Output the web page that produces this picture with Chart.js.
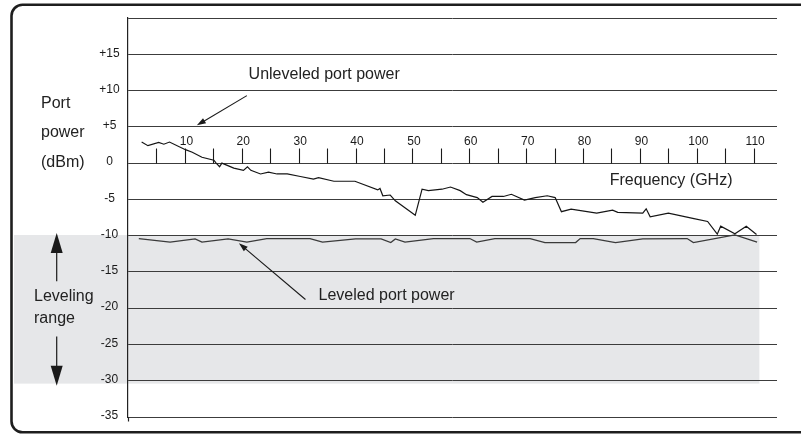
<!DOCTYPE html>
<html>
<head>
<meta charset="utf-8">
<script src="https://cdn.jsdelivr.net/npm/chart.js@4/dist/chart.umd.min.js"></script>
<style>
  html, body { margin: 0; padding: 0; background: #ffffff; }
  #wrap { width: 801px; height: 436px; }
</style>
</head>
<body>
<div id="wrap"><canvas id="c" width="801" height="436"></canvas></div>
<script>
// ---- Data ----
const unleveledFreq  = [2.4, 3.5, 5.4, 6.3, 7.3, 10.1, 11.3, 13.0, 15.1, 15.5, 16.1, 16.5, 18.6, 20.3, 21.0, 21.6, 23.3, 24.7, 26.2, 28.0, 30.3, 32.6, 33.5, 36.2, 39.9, 43.9, 44.3, 44.8, 46.1, 47.0, 50.5, 51.7, 52.8, 55.2, 56.7, 58.4, 59.5, 61.4, 62.4, 64.0, 66.0, 67.4, 69.7, 71.6, 73.7, 75.1, 76.2, 77.9, 82.4, 85.2, 86.1, 90.5, 91.1, 91.8, 95.0, 99.5, 101.9, 103.6, 104.2, 106.7, 108.7, 110.5];
const unleveledPower = [2.9, 2.4, 2.85, 2.6, 2.9, 1.85, 1.5, 0.8, 0.4, 0.0, -0.5, 0.0, -0.7, -1.0, -0.5, -1.0, -1.5, -1.25, -1.5, -1.5, -1.85, -2.2, -2.0, -2.5, -2.5, -3.7, -3.5, -4.5, -4.4, -5.2, -7.2, -3.6, -3.8, -3.6, -3.3, -3.8, -4.35, -4.75, -5.4, -4.6, -4.6, -4.3, -5.1, -4.75, -4.5, -4.75, -6.7, -6.35, -6.9, -6.5, -6.8, -6.9, -6.3, -7.4, -6.9, -7.65, -8.05, -9.8, -8.7, -9.75, -8.7, -9.85];

const leveledFreq  = [1.9, 7.4, 11.8, 13.0, 17.6, 20.9, 24.4, 32.0, 34.2, 40.0, 44.5, 46.2, 47.0, 48.7, 53.7, 60.1, 61.3, 64.5, 70.7, 73.3, 78.7, 79.5, 81.8, 85.7, 90.5, 98.3, 99.4, 106.7, 110.6];
const leveledPower = [-10.4, -10.9, -10.45, -10.9, -10.45, -10.9, -10.4, -10.4, -10.9, -10.45, -10.45, -10.95, -10.45, -10.9, -10.4, -10.4, -10.9, -10.4, -10.4, -10.95, -10.95, -10.4, -10.4, -10.95, -10.45, -10.4, -10.95, -9.9, -10.9];

const yTickValues   = [15, 10, 5, 0, -5, -10, -15, -20, -25, -30, -35];
const xTickLabels   = [10, 20, 30, 40, 50, 60, 70, 80, 90, 100, 110];
const xTickMarks    = [5, 10, 15, 20, 25, 30, 35, 40, 45, 50, 55, 60, 65, 70, 75, 80, 85, 90, 95, 100, 105, 110];

const levelingRangeTop = -10;
const levelingRangeBottom = -30.4;
const levelingRangeEndGHz = 111;

// ---- Build datasets ----
const unleveledData = unleveledFreq.map((f, i) => ({ x: f, y: unleveledPower[i] }));
const leveledData   = leveledFreq.map((f, i) => ({ x: f, y: leveledPower[i] }));

const FONT = '"Liberation Sans", Arial, Helvetica, sans-serif';

function arrow(ctx, x1, y1, x2, y2, len, half) {
  const a = Math.atan2(y2 - y1, x2 - x1);
  ctx.beginPath();
  ctx.moveTo(x1, y1);
  ctx.lineTo(x2 - Math.cos(a) * len * 0.8, y2 - Math.sin(a) * len * 0.8);
  ctx.stroke();
  ctx.beginPath();
  ctx.moveTo(x2, y2);
  ctx.lineTo(x2 - Math.cos(a) * len + Math.sin(a) * half, y2 - Math.sin(a) * len - Math.cos(a) * half);
  ctx.lineTo(x2 - Math.cos(a) * len - Math.sin(a) * half, y2 - Math.sin(a) * len + Math.cos(a) * half);
  ctx.closePath();
  ctx.fill();
}

const decor = {
  id: 'decor',
  beforeDraw(chart) {
    const { ctx, scales: { x, y } } = chart;
    ctx.save();
    ctx.fillStyle = '#ffffff';
    ctx.fillRect(0, 0, chart.width, chart.height);
    // outer rounded frame
    ctx.strokeStyle = '#1e1e1e';
    ctx.lineWidth = 2.6;
    ctx.beginPath();
    ctx.roundRect(11.5, 4.8, 810, 427.5, 11);
    ctx.stroke();
    // leveling range band
    ctx.fillStyle = '#e6e7e9';
    const yt = y.getPixelForValue(levelingRangeTop) - 0.6;
    const yb = y.getPixelForValue(levelingRangeBottom);
    const xr = x.getPixelForValue(levelingRangeEndGHz);
    ctx.fillRect(14, yt, xr - 14, yb - yt);
    ctx.restore();
  },
  afterDraw(chart) {
    const { ctx, scales: { x, y }, chartArea } = chart;
    ctx.save();
    // y axis extension below bottom
    ctx.strokeStyle = '#222';
    ctx.lineWidth = 1.2;
    ctx.beginPath();
    ctx.moveTo(chartArea.left + 0.5, chartArea.bottom);
    ctx.lineTo(chartArea.left + 0.5, chartArea.bottom + 4.5);
    ctx.stroke();

    // x tick marks on the 0 dBm line
    const y0 = Math.round(y.getPixelForValue(0)) + 0.5;
    ctx.strokeStyle = '#1a1a1a';
    ctx.lineWidth = 1.1;
    xTickMarks.forEach(v => {
      const px = Math.round(x.getPixelForValue(v)) + 0.5;
      ctx.beginPath();
      ctx.moveTo(px, y0);
      ctx.lineTo(px, y0 - 15);
      ctx.stroke();
    });
    // x tick labels
    ctx.fillStyle = '#1a1a1a';
    ctx.font = '12px ' + FONT;
    ctx.textAlign = 'center';
    ctx.textBaseline = 'middle';
    xTickLabels.forEach(v => {
      ctx.fillText(String(v), x.getPixelForValue(v) + 1.5, y0 - 22);
    });
    // y tick labels
    yTickValues.forEach(v => {
      const t = v > 0 ? '+' + v : String(v);
      ctx.fillText(t, 109.5, y.getPixelForValue(v) - 1);
    });

    // annotations
    ctx.font = '16px ' + FONT;
    ctx.textAlign = 'left';
    ctx.fillStyle = '#222';
    ctx.fillText('Unleveled port power', x.getPixelForValue(21.2), y.getPixelForValue(12.2));
    ctx.fillText('Frequency (GHz)', x.getPixelForValue(84.7), y.getPixelForValue(-2.35));
    ctx.fillText('Leveled port power', x.getPixelForValue(33.5), y.getPixelForValue(-18.2));
    ctx.fillText('Port', 41, 104);
    ctx.fillText('power', 41, 133);
    ctx.fillText('(dBm)', 41, 163);
    ctx.fillText('Leveling', 34, 297);
    ctx.fillText('range', 34, 319);

    // annotation arrows
    ctx.strokeStyle = '#1a1a1a';
    ctx.fillStyle = '#1a1a1a';
    ctx.lineWidth = 1.1;
    arrow(ctx, x.getPixelForValue(20.9), y.getPixelForValue(9.3), x.getPixelForValue(12.1), y.getPixelForValue(5.2), 9, 3);
    arrow(ctx, x.getPixelForValue(31.2), y.getPixelForValue(-18.8), x.getPixelForValue(19.5), y.getPixelForValue(-11.05), 9, 3);

    // leveling range arrows
    const ax = 56.7;
    ctx.lineWidth = 1.2;
    arrow(ctx, ax, y.getPixelForValue(-16.3), ax, y.getPixelForValue(-9.65), 20, 6);
    arrow(ctx, ax, y.getPixelForValue(-23.9), ax, y.getPixelForValue(-30.7), 20, 6);
    ctx.restore();
  }
};

new Chart(document.getElementById('c'), {
  type: 'line',
  data: {
    datasets: [
      { label: 'Unleveled port power', data: unleveledData, borderColor: '#151515', borderWidth: 1.2, pointRadius: 0, tension: 0, fill: false },
      { label: 'Leveled port power', data: leveledData, borderColor: '#3a3a3a', borderWidth: 1.3, pointRadius: 0, tension: 0, fill: false }
    ]
  },
  options: {
    responsive: false,
    devicePixelRatio: 1,
    animation: false,
    layout: { padding: { left: 128, right: 24, top: 18, bottom: 19 } },
    plugins: { legend: { display: false }, tooltip: { enabled: false } },
    scales: {
      x: { type: 'linear', min: 0, max: 114.1, display: false },
      y: {
        type: 'linear', min: -35, max: 20,
        grid: { color: '#3c3c3c', lineWidth: 1, drawTicks: false },
        border: { display: true, color: '#222', width: 1.2 },
        ticks: { display: false, stepSize: 5 },
        afterFit(s) { s.width = 0; }
      }
    }
  },
  plugins: [decor]
});
</script>
</body>
</html>
